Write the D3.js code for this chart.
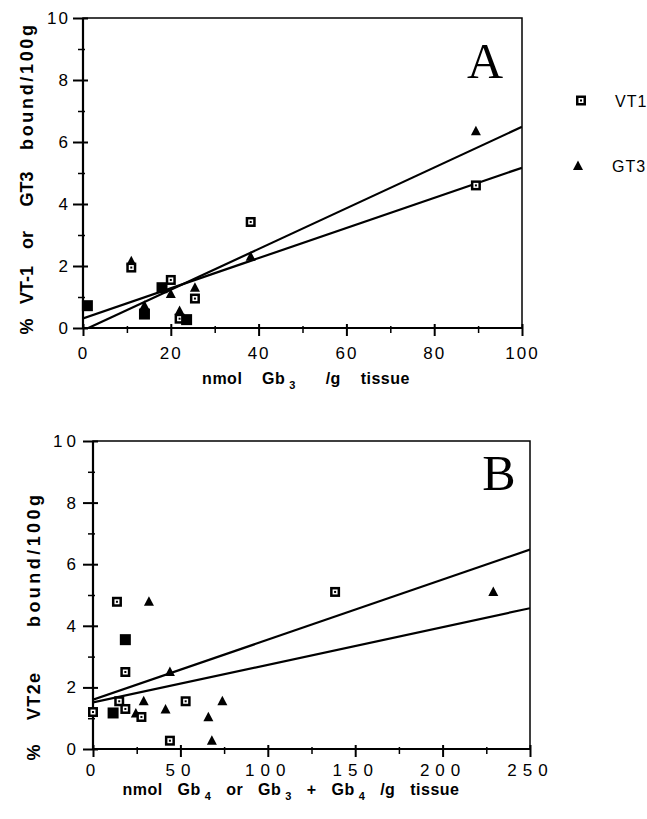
<!DOCTYPE html>
<html>
<head>
<meta charset="utf-8">
<script src="https://cdn.jsdelivr.net/npm/d3@7"></script>
<style>
body { margin: 0; background: #fff; }
text { font-family: "Liberation Sans", Arial, sans-serif; fill: #000; }
.tick text { font-size: 17px; }
.title { font-size: 16px; font-weight: bold; white-space: pre; }
</style>
</head>
<body>
<svg id="chart" width="647" height="819"></svg>
<script>
// panel A : nmol Gb3 / g tissue
const aVT1 = [[11, 1.95], [20, 1.55], [25.5, 0.95], [38.2, 3.42], [89.5, 4.6], [22, 0.3]];
const aGT3 = [[11, 2.15], [14, 0.72], [20, 1.1], [22, 0.55], [25.5, 1.3], [38.2, 2.3], [89.5, 6.35]];
const aBoth = [[1, 0.72], [14, 0.45], [18, 1.3], [23.6, 0.27]];
const aFits = [[-0.08, 0.0657], [0.31, 0.0486]]; // intercept, slope
const aXTicks = [0, 20, 40, 60, 80, 100];
const aXMinor = [10, 30, 50, 70, 90];

// panel B : nmol Gb4 or Gb3 + Gb4 / g tissue
const bVT2e = [[0, 1.2], [13.7, 4.78], [15, 1.55], [18.5, 2.5], [18.5, 1.3], [27.7, 1.04], [44, 0.27], [53, 1.55], [138.5, 5.1]];
const bGT3 = [[32, 4.78], [44, 2.5], [29, 1.55], [24.5, 1.15], [41.5, 1.28], [66, 1.03], [68, 0.27], [74, 1.55], [229, 5.1]];
const bBoth = [[18.5, 3.55], [11.5, 1.17]];
const bFits = [[1.6, 0.0195], [1.51, 0.01224]];
const bXTicks = [0, 50, 100, 150, 200, 250];
const bXMinor = [25, 75, 125, 175, 225];

const yTicks = [0, 2, 4, 6, 8, 10];
const yMinor = [1, 3, 5, 7, 9];
const legendNames = ["VT1", "GT3"];

const svg = d3.select("#chart");
svg.append("rect").attr("width", 647).attr("height", 819).attr("fill", "#fff");

// y titles are laid out word by word: [word, low end, high end] in page y
const panels = [
    { id: "A", left: 83, right: 522, top: 18, bottom: 328, xMax: 100,
      squares: aVT1, triangles: aGT3, solid: aBoth, fits: aFits,
      xTicks: aXTicks, xMinor: aXMinor, labelPad: 11, xLs: 2, yLs: 2, yGap: 15,
      xTitle: [["nmol    Gb", 0], ["3", 1], ["      /g    tissue", 0]], xTitleX: 306, xTitleY: 384,
      yTitle: [["%", 333, 320], ["VT-1", 303, 267], ["or", 247, 233], ["GT3", 205, 173], ["bound/100g", 150, 25]],
      yTitleX: 33,
      letter: "A", letterX: 485, letterY: 78 },
    { id: "B", left: 93, right: 530, top: 441, bottom: 749, xMax: 250,
      squares: bVT2e, triangles: bGT3, solid: bBoth, fits: bFits,
      xTicks: bXTicks, xMinor: bXMinor, labelPad: 7, xLs: 6, yLs: 4, yGap: 17,
      xTitle: [["nmol   Gb", 0], ["4", 1], ["   or   Gb", 0], ["3", 1], ["   +   Gb", 0], ["4", 1], ["   /g   tissue", 0]],
      xTitleX: 291, xTitleY: 795,
      yTitle: [["%", 760, 745], ["VT2e", 720, 673], ["bound/100g", 627, 495]],
      yTitleX: 40,
      letter: "B", letterX: 499, letterY: 490 }
];

function drawSquare(g, x, y) {
    g.append("rect").attr("x", x - 5).attr("y", y - 5).attr("width", 10).attr("height", 10).attr("fill", "#000");
    g.append("rect").attr("x", x - 2.5).attr("y", y - 2.5).attr("width", 5).attr("height", 5).attr("fill", "#fff");
    g.append("rect").attr("x", x - 1).attr("y", y - 1).attr("width", 2).attr("height", 2).attr("fill", "#000");
}

function drawTriangle(g, x, y) {
    g.append("path")
        .attr("d", `M${x},${y - 5.5}L${x + 5},${y + 4}L${x - 5},${y + 4}Z`)
        .attr("fill", "#000");
}

panels.forEach((p) => {
    const x = d3.scaleLinear().domain([0, p.xMax]).range([p.left, p.right]);
    const y = d3.scaleLinear().domain([0, 10]).range([p.bottom, p.top]);
    const g = svg.append("g");

    // minor ticks
    g.append("g").attr("transform", `translate(0,${p.bottom})`)
        .call(d3.axisBottom(x).tickValues(p.xMinor).tickSize(5).tickFormat(""))
        .call((s) => { s.select(".domain").remove(); s.selectAll("line").attr("y1", -2).attr("stroke-width", 1.5); });
    g.append("g").attr("transform", `translate(${p.left},0)`)
        .call(d3.axisLeft(y).tickValues(yMinor).tickSize(5).tickFormat(""))
        .call((s) => { s.select(".domain").remove(); s.selectAll("line").attr("x1", 2).attr("stroke-width", 1.5); });

    // major ticks
    g.append("g").attr("transform", `translate(0,${p.bottom})`)
        .call(d3.axisBottom(x).tickValues(p.xTicks).tickSizeInner(8).tickSizeOuter(0).tickPadding(p.labelPad))
        .call((s) => {
            s.select(".domain").remove();
            s.selectAll("line").attr("y1", -4).attr("stroke-width", 2);
            s.selectAll("text").style("letter-spacing", p.xLs + "px");
        });
    g.append("g").attr("transform", `translate(${p.left},0)`)
        .call(d3.axisLeft(y).tickValues(yTicks).tickSizeInner(10).tickSizeOuter(0).tickPadding(p.yGap - 10 - p.yLs))
        .call((s) => {
            s.select(".domain").remove();
            s.selectAll("line").attr("x1", 5).attr("stroke-width", 2);
            s.selectAll("text").style("letter-spacing", p.yLs + "px");
        });
    g.selectAll(".tick text").attr("fill", "#000");

    // frame
    g.append("rect").attr("x", p.left).attr("y", p.top)
        .attr("width", p.right - p.left).attr("height", p.bottom - p.top)
        .attr("fill", "none").attr("stroke", "#000").attr("stroke-width", 1.5);
    g.append("path")
        .attr("d", `M${p.left},${p.top}V${p.bottom}H${p.right}`)
        .attr("fill", "none").attr("stroke", "#000").attr("stroke-width", 2.2);

    // regression lines
    const clipId = "clip" + p.id;
    svg.append("clipPath").attr("id", clipId).append("rect")
        .attr("x", p.left).attr("y", p.top).attr("width", p.right - p.left).attr("height", p.bottom - p.top);
    const line = d3.line().x((d) => x(d[0])).y((d) => y(d[1]));
    p.fits.forEach((f) => {
        g.append("path")
            .attr("d", line([[0, f[0]], [p.xMax, f[0] + f[1] * p.xMax]]))
            .attr("clip-path", `url(#${clipId})`)
            .attr("fill", "none").attr("stroke", "#000").attr("stroke-width", 2.2);
    });

    // points
    p.triangles.forEach((d) => drawTriangle(g, x(d[0]), y(d[1])));
    p.squares.forEach((d) => drawSquare(g, x(d[0]), y(d[1])));
    p.solid.forEach((d) => {
        g.append("rect").attr("x", x(d[0]) - 5.5).attr("y", y(d[1]) - 5.5)
            .attr("width", 11).attr("height", 11).attr("fill", "#000");
    });

    // x title
    const xt = g.append("text").attr("class", "title")
        .attr("x", p.xTitleX).attr("y", p.xTitleY).attr("text-anchor", "middle")
        .style("letter-spacing", "0.5px");
    p.xTitle.forEach((part, i) => {
        const prevSub = i > 0 && p.xTitle[i - 1][1];
        xt.append("tspan").text(part[0])
            .attr("dy", part[1] ? 5 : (prevSub ? -5 : 0))
            .attr("dx", part[1] ? 4 : 0)
            .style("font-size", part[1] ? "11px" : null);
    });

    // y title, word by word; stretch only words that are too short
    p.yTitle.forEach((w) => {
        const t = g.append("text").attr("class", "title")
            .attr("transform", `translate(${p.yTitleX},${(w[1] + w[2]) / 2}) rotate(-90)`)
            .attr("text-anchor", "middle")
            .style("font-size", "18px")
            .text(w[0]);
        if (t.node().getComputedTextLength() < w[1] - w[2]) {
            t.attr("textLength", w[1] - w[2]).attr("lengthAdjust", "spacing");
        }
    });

    g.append("text").attr("x", p.letterX).attr("y", p.letterY)
        .attr("text-anchor", "middle")
        .style("font-family", "'Liberation Serif', 'Times New Roman', serif")
        .style("font-size", "50px")
        .text(p.letter);
});

// legend
const legend = svg.append("g");
drawSquare(legend, 581, 100.5);
drawTriangle(legend, 578, 166);
legend.selectAll("text.leg").data(legendNames).enter().append("text")
    .attr("class", "leg")
    .attr("x", (d, i) => i ? 612 : 615)
    .attr("y", (d, i) => i ? 172 : 107)
    .style("font-size", "16px")
    .style("letter-spacing", "1px")
    .text((d) => d);
</script>
</body>
</html>
